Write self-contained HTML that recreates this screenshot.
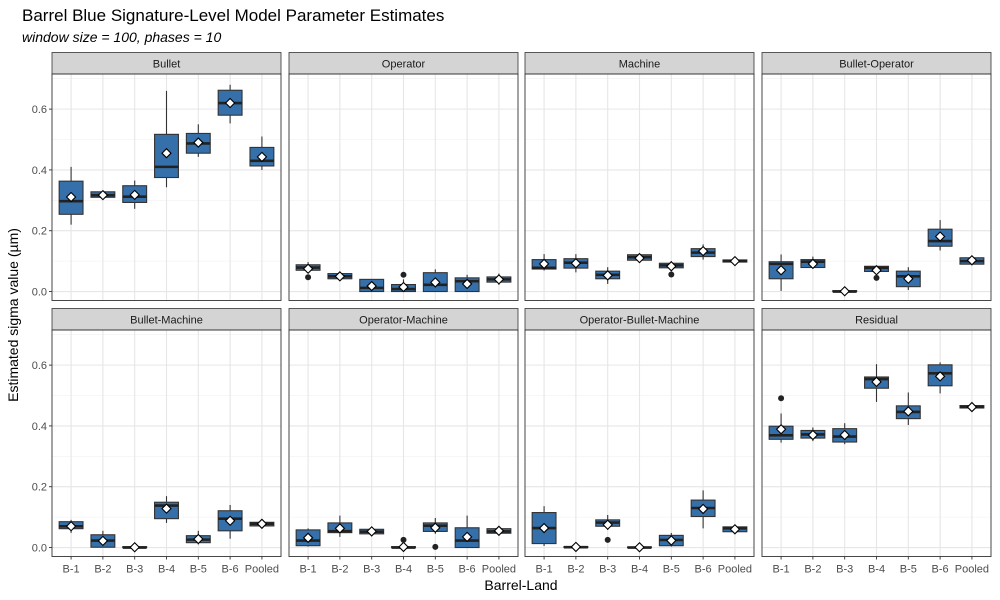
<!DOCTYPE html>
<html><head><meta charset="utf-8"><style>
body{margin:0;background:#fff;}
svg{display:block;font-family:"Liberation Sans",Arial,sans-serif;}
</style></head><body>
<svg id="chart" width="1000" height="600" viewBox="0 0 1000 600">
<text x="22" y="21" font-size="17" fill="#000">Barrel Blue Signature-Level Model Parameter Estimates</text>
<text x="22" y="42" font-size="14" font-style="italic" fill="#000">window size = 100, phases = 10</text>
<text transform="translate(18,315) rotate(-90)" text-anchor="middle" font-size="14" fill="#000">Estimated sigma value (µm)</text>
<text x="521" y="590" text-anchor="middle" font-size="14" fill="#000">Barrel-Land</text>
<g id="plots"></g>
</svg>
<script>
const categories = ["B-1","B-2","B-3","B-4","B-5","B-6","Pooled"];
const facets = ["Bullet","Operator","Machine","Bullet-Operator","Bullet-Machine","Operator-Machine","Operator-Bullet-Machine","Residual"];
const yTicks = [0, 0.2, 0.4, 0.6];
const yTickLabels = ["0.0","0.2","0.4","0.6"];
// each row: [lowerWhisker, q1, median, q3, upperWhisker, mean]
const bulletStats = [[0.22,0.254,0.297,0.363,0.41,0.311],[0.309,0.31,0.317,0.328,0.33,0.317],[0.272,0.293,0.312,0.348,0.365,0.318],[0.343,0.375,0.41,0.517,0.66,0.455],[0.443,0.455,0.487,0.52,0.55,0.49],[0.553,0.58,0.62,0.662,0.68,0.62],[0.40,0.413,0.43,0.474,0.51,0.443]];
const operatorStats = [[0.068,0.07,0.079,0.088,0.097,0.075],[0.042,0.042,0.05,0.059,0.059,0.05],[0,0,0.012,0.04,0.04,0.018],[0,0,0.008,0.023,0.04,0.015],[0,0,0.022,0.062,0.073,0.03],[0,0,0.034,0.045,0.055,0.025],[0.022,0.031,0.04,0.048,0.059,0.04]];
const machineStats = [[0.069,0.074,0.078,0.105,0.123,0.091],[0.063,0.077,0.095,0.108,0.123,0.093],[0.025,0.042,0.055,0.067,0.08,0.053],[0.095,0.103,0.113,0.121,0.125,0.11],[0.07,0.078,0.086,0.093,0.1,0.083],[0.105,0.115,0.128,0.141,0.155,0.133],[0.097,0.097,0.1,0.104,0.104,0.1]];
const bulletOperatorStats = [[0.002,0.042,0.091,0.098,0.122,0.07],[0.075,0.079,0.098,0.105,0.115,0.091],[0,0,0,0.003,0.003,0.001],[0.066,0.066,0.078,0.083,0.085,0.07],[0.005,0.016,0.05,0.067,0.08,0.042],[0.135,0.149,0.166,0.205,0.235,0.181],[0.086,0.09,0.1,0.111,0.118,0.103]];
const bulletMachineStats = [[0.048,0.062,0.07,0.085,0.091,0.07],[0,0.001,0.023,0.042,0.055,0.022],[0,0,0,0.003,0.005,0.001],[0.081,0.095,0.138,0.149,0.169,0.128],[0.01,0.016,0.026,0.039,0.055,0.028],[0.029,0.055,0.095,0.121,0.14,0.088],[0.071,0.071,0.078,0.083,0.083,0.078]];
const operatorMachineStats = [[0.003,0.006,0.023,0.058,0.063,0.032],[0.035,0.049,0.054,0.081,0.105,0.063],[0.042,0.045,0.052,0.06,0.065,0.053],[0,0,0,0.003,0.003,0.002],[0.045,0.053,0.072,0.081,0.097,0.065],[0,0,0.023,0.065,0.105,0.035],[0.045,0.047,0.053,0.062,0.065,0.055]];
const operatorBulletMachineStats = [[0.005,0.013,0.064,0.115,0.136,0.064],[0,0,0.001,0.003,0.003,0.002],[0.058,0.07,0.082,0.091,0.107,0.075],[0,0,0,0.002,0.002,0.001],[0.003,0.006,0.025,0.04,0.048,0.023],[0.063,0.102,0.13,0.156,0.188,0.127],[0.045,0.052,0.063,0.068,0.07,0.06]];
const residualStats = [[0.345,0.356,0.369,0.399,0.441,0.389],[0.35,0.36,0.372,0.385,0.395,0.37],[0.34,0.347,0.365,0.391,0.409,0.37],[0.479,0.524,0.554,0.561,0.603,0.545],[0.403,0.424,0.446,0.466,0.51,0.448],[0.507,0.532,0.573,0.601,0.609,0.563],[0.459,0.459,0.462,0.467,0.467,0.462]];
const facetStats = [bulletStats, operatorStats, machineStats, bulletOperatorStats, bulletMachineStats, operatorMachineStats, operatorBulletMachineStats, residualStats];
// outliers: [facetIndex, categoryIndex, value]
const outlierFacet = [1,1,2,3,5,5,6,7];
const outlierCat = [0,3,4,3,3,4,2,0];
const outlierValue = [0.047,0.055,0.056,0.045,0.025,0.002,0.025,0.491];

const NS="http://www.w3.org/2000/svg";
const root=document.getElementById('plots');
function mk(tag,attrs,parent){const e=document.createElementNS(NS,tag);for(const k in attrs)e.setAttribute(k,attrs[k]);(parent||root).appendChild(e);return e;}
const colX=[52,289,525,762], panelW=229;
const rowTop=[74,330], panelH=226.5, stripH=21.5;
const yMin=-0.0295, yMax=0.7155;
function yScale(v,row){return rowTop[row]+panelH-(v-yMin)/(yMax-yMin)*panelH;}
function xScale(i,col){const step=panelW/(categories.length-1+1.2);return colX[col]+step*(0.6+i);}
const step=panelW/(categories.length-1+1.2), bw=step*0.75;

facets.forEach((f,fi)=>{
  const row=Math.floor(fi/4), col=fi%4;
  const g=mk('g',{});
  
  
  const x0=colX[col], y0=rowTop[row];
  mk('rect',{x:x0,y:y0,width:panelW,height:panelH,fill:'#fff'},g);
  // minor grid
  [0.1,0.3,0.5,0.7].forEach(v=>mk('line',{x1:x0,x2:x0+panelW,y1:yScale(v,row),y2:yScale(v,row),stroke:'#f0f0f0','stroke-width':0.6},g));
  yTicks.forEach(v=>mk('line',{x1:x0,x2:x0+panelW,y1:yScale(v,row),y2:yScale(v,row),stroke:'#e6e6e6','stroke-width':1.1},g));
  categories.forEach((c,i)=>mk('line',{x1:xScale(i,col),x2:xScale(i,col),y1:y0,y2:y0+panelH,stroke:'#e6e6e6','stroke-width':1.1},g));
  // strip
  const s=mk('rect',{x:x0,y:y0-stripH,width:panelW,height:stripH,fill:'#d4d4d4',stroke:'#333','stroke-width':0.8},g);
  
  
  const st=mk('text',{x:x0+panelW/2,y:y0-stripH/2+4,'text-anchor':'middle','font-size':11,fill:'#1a1a1a'},g);
  st.textContent=f;
  
  
  // boxes
  facetStats[fi].forEach((d,i)=>{
    const cx=xScale(i,col);
    const bg=mk('g',{},g);
    
    
    mk('line',{x1:cx,x2:cx,y1:yScale(d[4],row),y2:yScale(d[3],row),stroke:'#333','stroke-width':1.1},bg);
    mk('line',{x1:cx,x2:cx,y1:yScale(d[1],row),y2:yScale(d[0],row),stroke:'#333','stroke-width':1.1},bg);
    const yt=yScale(d[3],row), yb=yScale(d[1],row);
    mk('rect',{x:cx-bw/2,y:yt,width:bw,height:Math.max(yb-yt,0.5),fill:'#3570aa',stroke:'#333','stroke-width':1.1},bg);
    mk('line',{x1:cx-bw/2,x2:cx+bw/2,y1:yScale(d[2],row),y2:yScale(d[2],row),stroke:'#222','stroke-width':2.6},bg);
    const my=yScale(d[5],row);
    const m=mk('path',{d:`M${cx},${my-4.5}L${cx+4.5},${my}L${cx},${my+4.5}L${cx-4.5},${my}Z`,fill:'#fff',stroke:'#000','stroke-width':1.1},bg);
    
    
  });
  mk('rect',{x:x0,y:y0,width:panelW,height:panelH,fill:'none',stroke:'#333','stroke-width':0.9},g);
  // y axis ticks on left column
  if(col===0){
    yTicks.forEach((v,k)=>{
      mk('line',{x1:x0-3,x2:x0,y1:yScale(v,row),y2:yScale(v,row),stroke:'#333','stroke-width':0.9},g);
      const t=mk('text',{x:x0-5,y:yScale(v,row)+4,'text-anchor':'end','font-size':11,fill:'#4d4d4d'},g);
      t.textContent=yTickLabels[k];
      
      
    });
  }
  if(row===1){
    categories.forEach((c,i)=>{
      mk('line',{x1:xScale(i,col),x2:xScale(i,col),y1:y0+panelH,y2:y0+panelH+3,stroke:'#333','stroke-width':0.9},g);
      const t=mk('text',{x:xScale(i,col),y:y0+panelH+16,'text-anchor':'middle','font-size':11,fill:'#4d4d4d'},g);
      t.textContent=c;
      
      
    });
  }
});
outlierValue.forEach((v,k)=>{
  const fi=outlierFacet[k], row=Math.floor(fi/4), col=fi%4;
  const o=mk('circle',{cx:xScale(outlierCat[k],col),cy:yScale(v,row),r:3,fill:'#222'});
  
  
});
</script>
</body></html>
